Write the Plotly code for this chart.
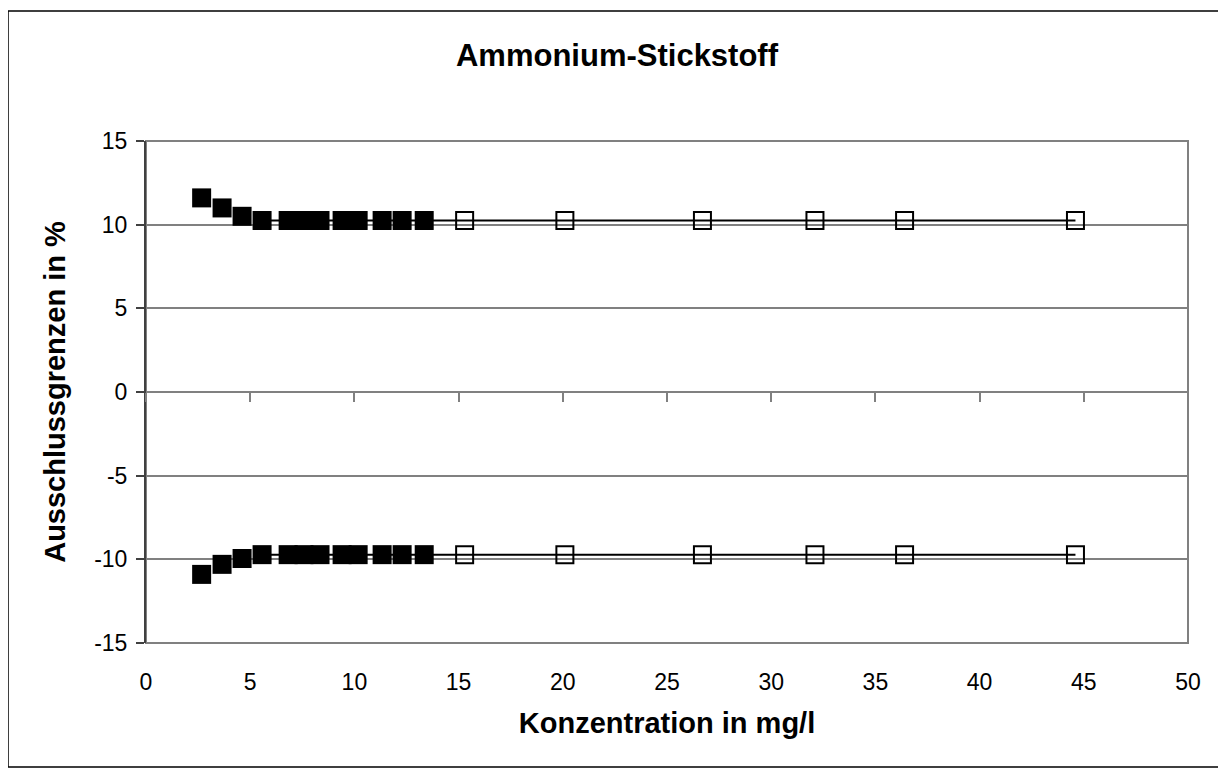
import plotly.graph_objects as go

# ---- data ----
conc_filled = [2.67, 3.65, 4.61, 5.57, 6.82, 7.58, 8.35, 9.41, 10.18, 11.33, 12.29, 13.35]
upper_filled = [11.6, 11.0, 10.5, 10.25, 10.25, 10.25, 10.25, 10.25, 10.25, 10.25, 10.25, 10.25]
lower_filled = [-10.9, -10.3, -9.95, -9.72, -9.72, -9.72, -9.72, -9.72, -9.72, -9.72, -9.72, -9.72]

conc_open = [15.29, 20.1, 26.7, 32.1, 36.4, 44.6]
upper_open = [10.25, 10.25, 10.25, 10.25, 10.25, 10.25]
lower_open = [-9.72, -9.72, -9.72, -9.72, -9.72, -9.72]

x_ticks = [0, 5, 10, 15, 20, 25, 30, 35, 40, 45, 50]
y_ticks = [-15, -10, -5, 0, 5, 10, 15]

FONT = "Liberation Sans, Arial, sans-serif"
GRID = "#808080"

fig = go.Figure()

# connecting lines (flat part of limits)
for ys_f, ys_o in [(upper_filled, upper_open), (lower_filled, lower_open)]:
    xs = conc_filled[3:] + conc_open
    ys = ys_f[3:] + ys_o
    fig.add_trace(go.Scatter(x=xs, y=ys, mode="lines",
                             line=dict(color="black", width=2),
                             showlegend=False, hoverinfo="skip"))

for ys in [upper_filled, lower_filled]:
    fig.add_trace(go.Scatter(x=conc_filled, y=ys, mode="markers",
                             marker=dict(symbol="square", size=19, color="black",
                                         line=dict(color="black", width=0)),
                             showlegend=False))

for ys in [upper_open, lower_open]:
    fig.add_trace(go.Scatter(x=conc_open, y=ys, mode="markers",
                             marker=dict(symbol="square", size=17, color="rgba(255,255,255,0)",
                                         line=dict(color="black", width=2)),
                             showlegend=False))

# dummy trace for the tick-mark axis at y=0
fig.add_trace(go.Scatter(x=[x_ticks[0], x_ticks[-1]], y=[0, 0], xaxis="x2", mode="none",
                         showlegend=False, hoverinfo="skip"))

# page body has an 8px margin; figure origin is at screen (8, 8)
OFF = 8
W, H = 1218, 768
L, T = 146 - OFF, 141 - OFF
R = W - (1188 - OFF)
B = H - (643 - OFF)
pw, ph = W - L - R, H - T - B

fig.update_layout(
    width=W, height=H,
    margin=dict(l=L, r=R, t=T, b=B),
    paper_bgcolor="white", plot_bgcolor="white",
    font=dict(family=FONT, color="black", size=23),
    title=dict(text="<b>Ammonium-Stickstoff</b>", x=(617 - OFF) / W, xanchor="center",
               y=1 - (55 - OFF) / H, yanchor="middle",
               font=dict(family=FONT, size=31, color="black")),
    xaxis=dict(range=[0, 50], tickvals=x_ticks, ticktext=[str(v) for v in x_ticks],
               showgrid=False, zeroline=False, showline=False, ticks="",
               ticklabelstandoff=23,
               title=dict(text="<b>Konzentration in mg/l</b>", standoff=18,
                          font=dict(family=FONT, size=29))),
    xaxis2=dict(range=[0, 50], overlaying="x", anchor="free", position=0.5,
                tickvals=x_ticks, ticks="outside", ticklen=9, tickwidth=2,
                tickcolor=GRID, showticklabels=False, showgrid=False,
                zeroline=False, showline=False),
    yaxis=dict(range=[-15, 15], tickvals=y_ticks, ticktext=[str(v) for v in y_ticks],
               showgrid=True, gridcolor=GRID, gridwidth=2,
               zeroline=True, zerolinecolor=GRID, zerolinewidth=2,
               showline=True, linecolor="#404040", linewidth=2,
               ticks="outside", ticklen=8, tickwidth=2, tickcolor="#404040",
               ticklabelstandoff=4,
               title=dict(text="<b>Ausschlussgrenzen in %</b>", standoff=20,
                          font=dict(family=FONT, size=29))),
)

# plot-area border (gray)
fig.add_shape(type="rect", xref="paper", yref="paper", x0=0, x1=1, y0=0, y1=1,
              line=dict(color=GRID, width=2), layer="below")
# outer chart border (black)
fig.add_shape(type="rect", xref="paper", yref="paper",
              x0=(8 - OFF - L) / pw, x1=(1222 - OFF - L) / pw,
              y0=(H - B - (767 - OFF)) / ph, y1=(H - B - (11 - OFF)) / ph,
              line=dict(color="black", width=1.5), layer="below")

fig.write_html("out.html")
